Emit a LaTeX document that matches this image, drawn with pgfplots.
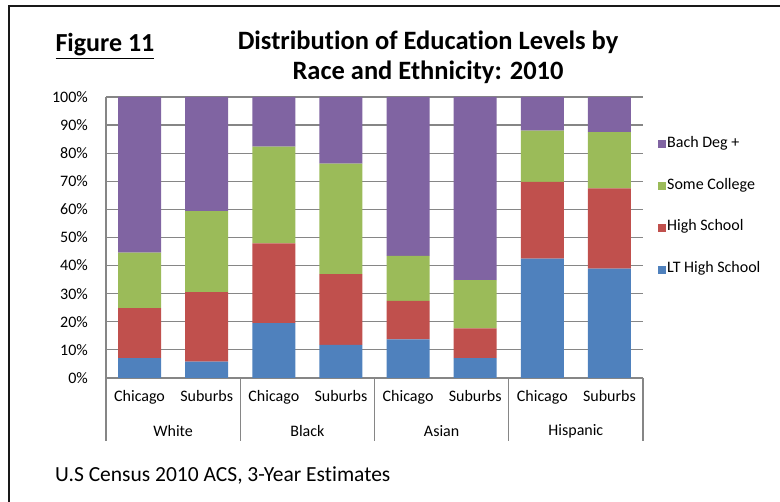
\documentclass[border=0pt]{standalone}
\usepackage{pgfplots}
\pgfplotsset{compat=1.18}
\usepackage{fontspec}
\setmainfont{Carlito}[Ligatures=NoCommon]

\definecolor{ltblue}{HTML}{4F81BD}
\definecolor{hsred}{HTML}{C0504D}
\definecolor{scgreen}{HTML}{9BBB59}
\definecolor{bapurple}{HTML}{8064A2}
\definecolor{gridgray}{HTML}{868686}

\begin{document}
\begin{tikzpicture}
\path[use as bounding box] (0pt,0pt) rectangle (780pt,502pt);
% frame
\draw[line width=2pt, black!90] (9pt,0pt) -- (9pt,495.5pt) -- (780pt,495.5pt);

% titles
\node[font=\fontsize{26.5}{30}\selectfont\bfseries] at (428pt,460pt) {Distribution of Education Levels by};
\node[font=\fontsize{26.5}{30}\selectfont\bfseries] at (428pt,430pt) {Race and Ethnicity: 2010};
\node[font=\fontsize{26}{30}\selectfont\bfseries, anchor=base] at (105pt,450pt) {\underline{Figure 11}};
\node[font=\fontsize{21.5}{25}\selectfont, anchor=west, inner sep=0pt] at (55pt,27pt) {U.S Census 2010 ACS, 3-Year Estimates};

\begin{axis}[
  at={(106pt,124pt)}, anchor=south west,
  width=537pt, height=281pt, scale only axis,
  ybar stacked, bar width=43pt,
  xmin=-0.5, xmax=7.5, ymin=0, ymax=100,
  axis x line*=bottom, axis y line*=left,
  axis line style={gridgray, line width=1.2pt},
  xtick=data,
  xticklabels={Chicago,Suburbs,Chicago,Suburbs,Chicago,Suburbs,Chicago,Suburbs},
  x tick label style={anchor=center, yshift=-20pt, text height=10pt, text depth=3pt,
    font=\fontsize{16}{19}\selectfont},
  major x tick style={draw=none},
  ytick={0,10,...,100},
  yticklabel={\pgfmathprintnumber{\tick}\%},
  y tick label style={anchor=east, inner sep=0pt, xshift=-18pt, font=\fontsize{16}{19}\selectfont},
  /pgf/number format/assume math mode=true,
  major y tick style={draw=none},
  ymajorgrids, grid style={gridgray, line width=1.2pt},
  clip=false,
  reverse legend,
  legend cell align=left,
  legend style={draw=none, fill=none, at={(rel axis cs:1,0)}, anchor=south west,
    xshift=12pt, yshift=98pt, row sep=25.8pt,
    font=\fontsize{16}{19}\selectfont,
    nodes={inner sep=1pt, text height=10pt, text depth=4pt}},
  legend image code/.code={\fill[#1,draw=none] (0pt,-4pt) rectangle (8pt,4pt);},
]
\addplot[fill=ltblue, draw=none] coordinates {(0,7.1) (1,5.8) (2,19.5) (3,11.8) (4,13.7) (5,7.1) (6,42.5) (7,38.9)};
\addplot[fill=hsred, draw=none] coordinates {(0,17.8) (1,24.8) (2,28.4) (3,25.2) (4,13.7) (5,10.6) (6,27.3) (7,28.6)};
\addplot[fill=scgreen, draw=none] coordinates {(0,19.7) (1,28.8) (2,34.4) (3,39.3) (4,16.1) (5,17.1) (6,18.2) (7,20.0)};
\addplot[fill=bapurple, draw=none] coordinates {(0,55.4) (1,40.6) (2,17.7) (3,23.7) (4,56.5) (5,65.2) (6,12.0) (7,12.5)};
\legend{LT High School, High School, Some College, Bach Deg +}

% group separators and labels
\pgfplotsinvokeforeach{-0.5,1.5,3.5,5.5,7.5}{
  \draw[gridgray, line width=1.2pt] (axis cs:#1,0) -- (axis cs:#1,-22.4);
}
\node[font=\fontsize{16}{19}\selectfont] at (axis cs:0.5,-18.9) {White};
\node[font=\fontsize{16}{19}\selectfont] at (axis cs:2.5,-18.9) {Black};
\node[font=\fontsize{16}{19}\selectfont] at (axis cs:4.5,-18.9) {Asian};
\node[font=\fontsize{16}{19}\selectfont] at (axis cs:6.5,-18.9) {Hispanic};
\end{axis}
\end{tikzpicture}
\end{document}
